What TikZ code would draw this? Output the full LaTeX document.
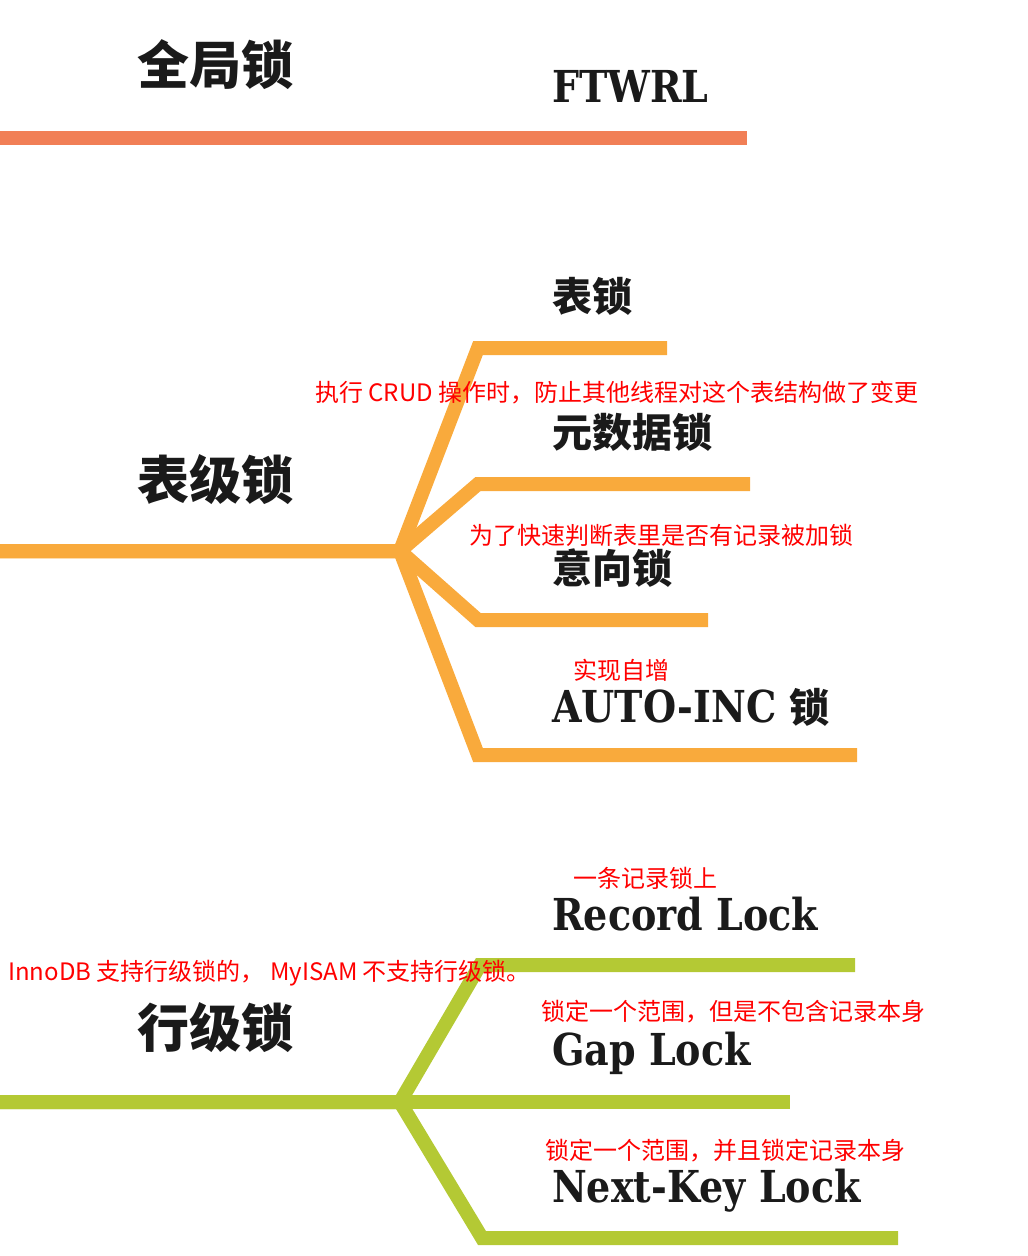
\documentclass[tikz,border=0pt]{standalone}
\usepackage{fontspec}
\newfontfamily\cjk{Noto Sans CJK SC}
\newfontfamily\slab[FakeStretch=0.865]{DejaVu Serif}

\begin{document}
\begin{tikzpicture}[x=1pt, y=-1pt,
    bar/.style={line width=14pt, line join=miter},
    title/.style={font=\cjk\bfseries\fontsize{52}{52}\selectfont, text=labelColour, inner sep=0pt},
    leaf/.style={font=\cjk\bfseries\fontsize{40}{40}\selectfont, text=labelColour, anchor=west, inner sep=0pt},
    leafen/.style={font=\slab\bfseries\fontsize{44}{44}\selectfont, text=labelColour, anchor=base west, inner sep=0pt},
    note/.style={font=\cjk\fontsize{24}{24}\selectfont, text=noteColour, anchor=west, inner sep=0pt}]
    \definecolor{globalColour}{HTML}{F17F56}
    \definecolor{tableColour}{HTML}{F9AA3C}
    \definecolor{rowColour}{HTML}{B4C934}
    \definecolor{labelColour}{HTML}{1A1A1A}
    \definecolor{noteColour}{HTML}{FF0000}

    \useasboundingbox (0,0) rectangle (1028,1256);

    % Global lock
    \coordinate (G0) at (0,138);
    \coordinate (G1) at (747,138);
    \draw[bar, globalColour] (G0) -- (G1);
    \node[title] (global) at (215,65) {全局锁};
    \node[leafen] (ftwrl) at (552,102) {FTWRL};

    % Table-level locks
    \coordinate (T0) at (0,551);
    \coordinate (T) at (400,551);
    \coordinate (Ta) at (478,348);
    \coordinate (Ta2) at (667,348);
    \coordinate (Tb) at (478,484);
    \coordinate (Tb2) at (750,484);
    \coordinate (Tc) at (478,620);
    \coordinate (Tc2) at (708,620);
    \coordinate (Td) at (478,755);
    \coordinate (Td2) at (857,755);
    \draw[bar, tableColour] (T0) -- (T) -- (Ta) -- (Ta2);
    \draw[bar, tableColour] (T0) -- (T) -- (Tb) -- (Tb2);
    \draw[bar, tableColour] (T0) -- (T) -- (Tc) -- (Tc2);
    \draw[bar, tableColour] (T0) -- (T) -- (Td) -- (Td2);
    \node[title] (table) at (215,480) {表级锁};
    \node[leaf] (tablelock) at (552,296) {表锁};
    \node[leaf] (mdl) at (552,432) {元数据锁};
    \node[leaf] (intent) at (552,568) {意向锁};
    \node[leafen] (autoinc) at (552,722) {AUTO-INC {\cjk\fontsize{40}{40}\selectfont 锁}};

    % Row-level locks
    \coordinate (R0) at (0,1102);
    \coordinate (R) at (400,1102);
    \coordinate (Ra) at (480,965);
    \coordinate (Ra2) at (855,965);
    \coordinate (Rb) at (790,1102);
    \coordinate (Rc) at (482,1238);
    \coordinate (Rc2) at (898,1238);
    \draw[bar, rowColour] (R0) -- (R) -- (Ra) -- (Ra2);
    \draw[bar, rowColour] (R0) -- (R) -- (Rb);
    \draw[bar, rowColour] (R0) -- (R) -- (Rc) -- (Rc2);
    \node[title] (row) at (215,1028) {行级锁};
    \node[leafen] (record) at (552,930) {Record Lock};
    \node[leafen] (gap) at (552,1065) {Gap Lock};
    \node[leafen] (nextkey) at (552,1202) {Next-Key Lock};

    % Notes
    \node[note] (mdlnote) at (315,393) {执行 CRUD 操作时，防止其他线程对这个表结构做了变更};
    \node[note] (intentnote) at (469,535) {为了快速判断表里是否有记录被加锁};
    \node[note] (autoincnote) at (573,670) {实现自增};
    \node[note] (recordnote) at (573,878) {一条记录锁上};
    \node[note] (rownote) at (8,973) {InnoDB 支持行级锁的， MyISAM 不支持行级锁。};
    \node[note] (gapnote) at (541,1012) {锁定一个范围，但是不包含记录本身};
    \node[note] (nextkeynote) at (545,1151) {锁定一个范围，并且锁定记录本身};

\end{tikzpicture}
\end{document}
